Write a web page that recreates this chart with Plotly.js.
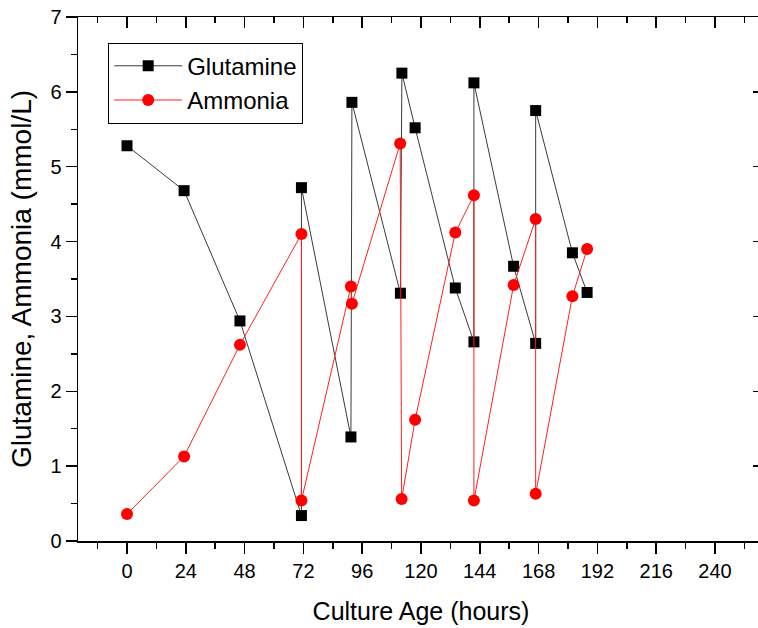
<!DOCTYPE html>
<html>
<head>
<meta charset="utf-8">
<script src="https://cdn.plot.ly/plotly-3.0.1.min.js"></script>
<style>
html, body { margin: 0; padding: 0; overflow: hidden; background: #fff; }
#chart { width: 765px; height: 628px; }
</style>
</head>
<body>
<div id="chart"></div>
<script>
// Culture age (hours) and concentrations (mmol/L)
const glnHours = [0, 23.3, 46.1, 71.2, 71.2, 91.4, 91.8, 111.6, 112.2, 117.6, 134.0, 141.6, 141.6, 157.8, 166.8, 166.8, 181.8, 187.8];
const glnValues = [5.28, 4.68, 2.94, 0.34, 4.72, 1.39, 5.86, 3.31, 6.25, 5.52, 3.38, 2.66, 6.12, 3.67, 2.64, 5.75, 3.85, 3.32];

const nh4Hours = [0, 23.3, 46.1, 71.2, 71.2, 91.4, 91.8, 111.5, 112.1, 117.6, 134.0, 141.6, 141.6, 157.8, 166.8, 166.8, 181.8, 187.8];
const nh4Values = [0.36, 1.13, 2.62, 4.10, 0.54, 3.40, 3.17, 5.31, 0.56, 1.62, 4.12, 4.62, 0.54, 3.42, 4.30, 0.63, 3.27, 3.90];

const seriesNames = ["Glutamine", "Ammonia"];
const xTitle = "Culture Age (hours)";
const yTitle = "Glutamine, Ammonia (mmol/L)";

const FONT = "Arial, 'Liberation Sans', sans-serif";

const traces = [
  {
    x: glnHours, y: glnValues, name: seriesNames[0],
    type: "scatter", mode: "lines+markers",
    line: { color: "#3a3a3a", width: 1 },
    marker: { symbol: "square", size: 11, color: "#000000" }
  },
  {
    x: nh4Hours, y: nh4Values, name: seriesNames[1],
    type: "scatter", mode: "lines+markers",
    line: { color: "#ff2020", width: 1 },
    marker: { symbol: "circle", size: 12, color: "#ff0000" }
  },
  { x: [], y: [], xaxis: "x2", yaxis: "y", showlegend: false, hoverinfo: "skip" },
  { x: [], y: [], xaxis: "x", yaxis: "y2", showlegend: false, hoverinfo: "skip" }
];

const xRange = [-20, 260];
const yRange = [0, 7];

const layout = {
  width: 765, height: 628,
  margin: { l: 78, r: 1, t: 17, b: 87 },
  paper_bgcolor: "#ffffff", plot_bgcolor: "#ffffff",
  font: { family: FONT, color: "#000000", size: 20 },
  showlegend: true,
  legend: {
    x: 0.044, y: 0.951, xanchor: "left", yanchor: "top",
    bordercolor: "#000000", borderwidth: 1, bgcolor: "#ffffff",
    font: { family: FONT, size: 24, color: "#000000" },
    itemwidth: 68, tracegroupgap: 0
  },
  xaxis: {
    range: xRange, tick0: 0, dtick: 24,
    ticks: "outside", ticklen: 11, tickwidth: 1.5, tickcolor: "#000",
    minor: { dtick: 12, ticks: "outside", ticklen: 6, tickwidth: 1.5, tickcolor: "#000" },
    showline: true, linewidth: 1.5, linecolor: "#000",
    showgrid: false, zeroline: false,
    tickfont: { family: FONT, size: 20 },
    title: { text: xTitle, font: { family: FONT, size: 25 }, standoff: 22 }
  },
  xaxis2: {
    overlaying: "x", side: "top", anchor: "y", range: xRange,
    tick0: 0, dtick: 24,
    ticks: "inside", ticklen: 11, tickwidth: 1.5, tickcolor: "#000",
    minor: { dtick: 12, ticks: "inside", ticklen: 6, tickwidth: 1.5, tickcolor: "#000" },
    showline: true, linewidth: 1.5, linecolor: "#000",
    showgrid: false, zeroline: false, showticklabels: false
  },
  yaxis: {
    range: yRange, tick0: 0, dtick: 1,
    ticks: "outside", ticklen: 11, tickwidth: 1.5, tickcolor: "#000",
    minor: { dtick: 0.5, ticks: "outside", ticklen: 6, tickwidth: 1.5, tickcolor: "#000" },
    showline: true, linewidth: 1.5, linecolor: "#000",
    showgrid: false, zeroline: false,
    tickfont: { family: FONT, size: 20 },
    title: { text: yTitle, font: { family: FONT, size: 28 }, standoff: 10 }
  },
  yaxis2: {
    overlaying: "y", side: "right", anchor: "x", range: yRange,
    tick0: 0, dtick: 1,
    ticks: "inside", ticklen: 11, tickwidth: 1.5, tickcolor: "#000",
    minor: { dtick: 0.5, ticks: "inside", ticklen: 6, tickwidth: 1.5, tickcolor: "#000" },
    showline: true, linewidth: 1.5, linecolor: "#000",
    showgrid: false, zeroline: false, showticklabels: false
  }
};

Plotly.newPlot("chart", traces, layout, { displayModeBar: false, staticPlot: true });
</script>
</body>
</html>
